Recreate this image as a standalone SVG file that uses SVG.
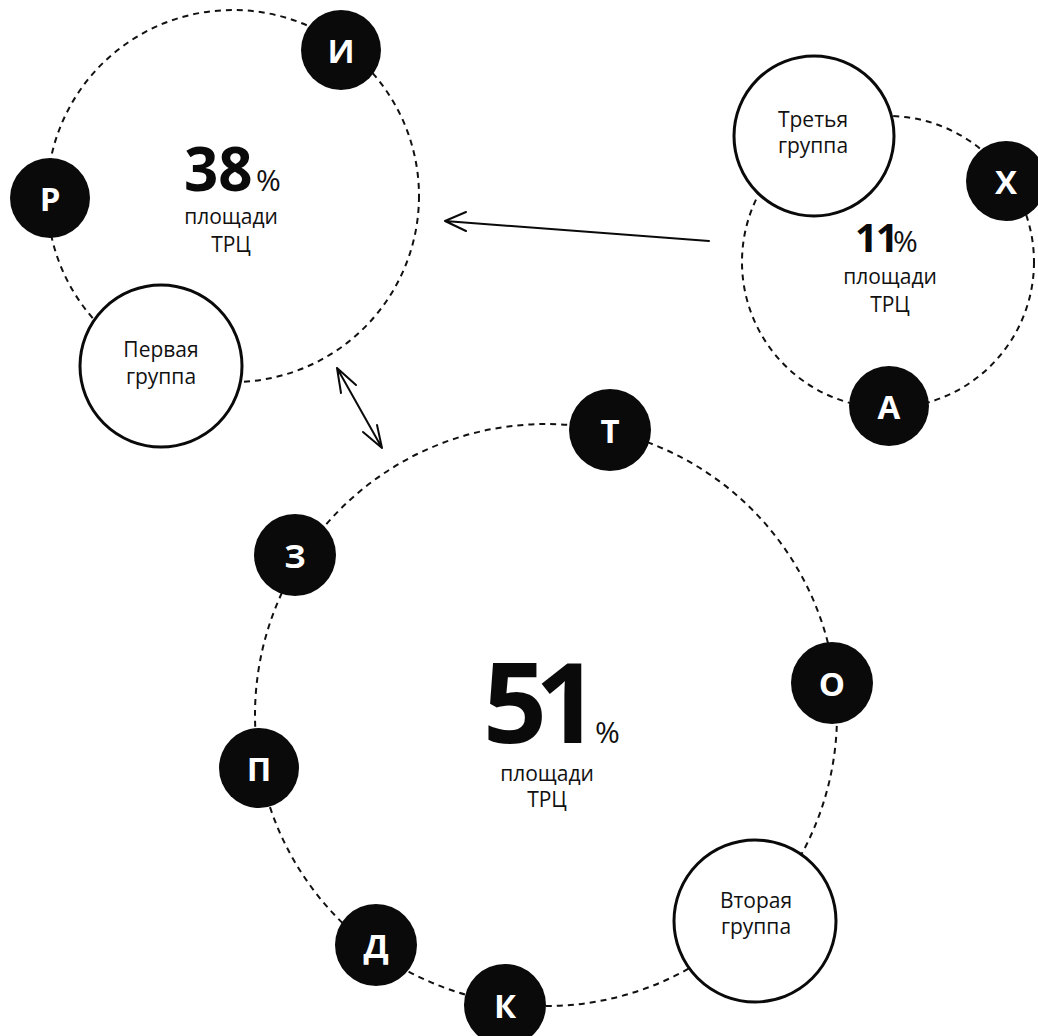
<svg xmlns="http://www.w3.org/2000/svg" width="1038" height="1036" viewBox="0 0 1038 1036">
<style>
.ring{fill:none;stroke:#111;stroke-width:2;stroke-dasharray:6 5}
.dot{fill:#0a0a0a}
.dl{fill:#fff;font-family:"Open Sans","Noto Sans",sans-serif;font-weight:700;font-size:33px;text-anchor:middle}
.grp{fill:#fff;stroke:#0a0a0a;stroke-width:3}
.gl{fill:#111;font-family:"Open Sans","Noto Sans",sans-serif;font-size:21px;text-anchor:middle}
.big{fill:#0a0a0a;font-family:"Open Sans","Noto Sans",sans-serif;font-weight:700}
.pc{fill:#111;font-family:"Open Sans","Noto Sans",sans-serif;font-weight:400}
.sub{fill:#111;font-family:"Open Sans","Noto Sans",sans-serif;font-size:21px;text-anchor:middle}
.arr{fill:none;stroke:#0a0a0a;stroke-width:2;stroke-linecap:round;stroke-linejoin:round}
</style>
<rect width="1038" height="1036" fill="#fff"/>
<g id="rings">
<circle class="ring" cx="233" cy="196" r="186"/>
<circle class="ring" cx="888" cy="262" r="146"/>
<circle class="ring" cx="546" cy="715" r="291"/>
</g>
<g id="connectors">
<path class="arr" d="M709,241 L445,221 M466,212 L445,221 L466,231"/>
<path class="arr" d="M337,368 L382,448 M341,393 L337,368 L356,385 M377,425 L382,448 L363,432"/>
</g>
<g id="group1-label">
<text x="184" y="191" class="big" font-size="60">38</text>
<text x="256" y="191" class="pc" font-size="30">%</text>
<text x="231" y="224" class="sub">площади</text>
<text x="231" y="252" class="sub">ТРЦ</text>
</g>
<g id="group3-label">
<text x="855" y="252" class="big" font-size="40" letter-spacing="-2">11</text>
<text x="893" y="252" class="pc" font-size="30">%</text>
<text x="890" y="284" class="sub">площади</text>
<text x="890" y="312" class="sub">ТРЦ</text>
</g>
<g id="group2-label">
<text x="483" y="743" class="big" font-size="112" letter-spacing="-12">51</text>
<text x="595" y="743" class="pc" font-size="30">%</text>
<text x="547" y="781" class="sub">площади</text>
<text x="547" y="807" class="sub">ТРЦ</text>
</g>
<g id="node-first-group"><circle class="grp" cx="161" cy="366" r="81"/><text class="gl" x="161" y="357">Первая</text><text class="gl" x="161" y="384">группа</text></g>
<g id="node-third-group"><circle class="grp" cx="814" cy="136" r="80"/><text class="gl" x="813" y="127">Третья</text><text class="gl" x="813" y="153">группа</text></g>
<g id="node-second-group"><circle class="grp" cx="755" cy="921" r="81"/><text class="gl" x="756" y="908">Вторая</text><text class="gl" x="756" y="934">группа</text></g>
<g id="node-R"><circle class="dot" cx="50" cy="198" r="40"/><text class="dl" x="50" y="211">Р</text></g>
<g id="node-I"><circle class="dot" cx="341" cy="50" r="40"/><text class="dl" x="341" y="63">И</text></g>
<g id="node-H"><circle class="dot" cx="1006" cy="181" r="40"/><text class="dl" x="1006" y="194">Х</text></g>
<g id="node-A"><circle class="dot" cx="889" cy="406" r="40"/><text class="dl" x="889" y="419">А</text></g>
<g id="node-T"><circle class="dot" cx="610" cy="430" r="41"/><text class="dl" x="610" y="443">Т</text></g>
<g id="node-Z"><circle class="dot" cx="295" cy="555" r="41"/><text class="dl" x="295" y="568">З</text></g>
<g id="node-O"><circle class="dot" cx="832" cy="683" r="41"/><text class="dl" x="832" y="696">О</text></g>
<g id="node-P"><circle class="dot" cx="259" cy="768" r="40"/><text class="dl" x="259" y="781">П</text></g>
<g id="node-D"><circle class="dot" cx="376" cy="945" r="41"/><text class="dl" x="376" y="958">Д</text></g>
<g id="node-K"><circle class="dot" cx="505" cy="1005" r="41"/><text class="dl" x="505" y="1018">К</text></g>
</svg>
